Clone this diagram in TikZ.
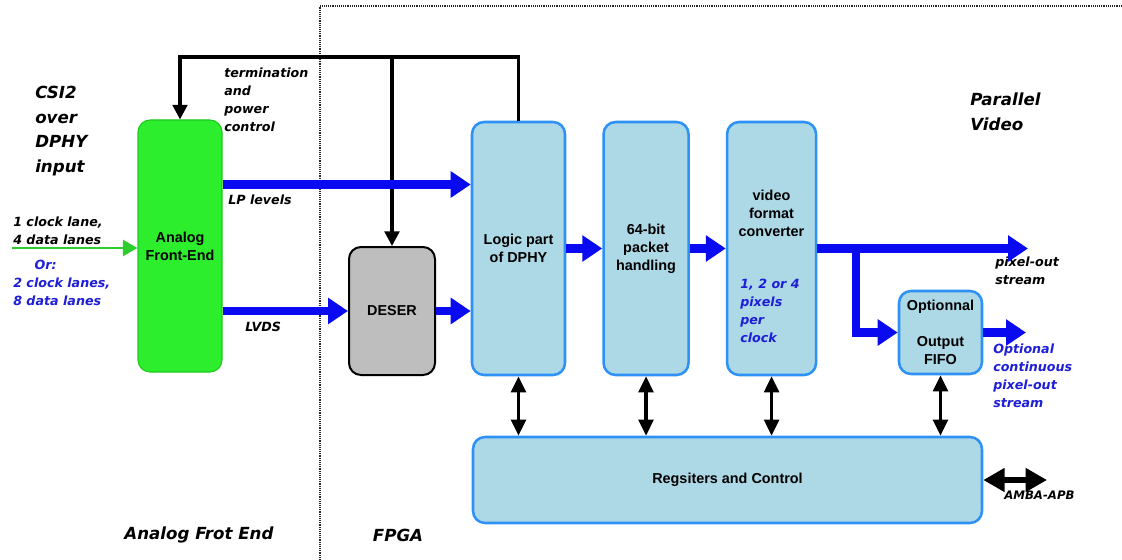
\documentclass[tikz,border=0pt]{standalone}
\usepackage{fontspec}
\setmainfont{Liberation Sans}
\newfontfamily\lblfont{DejaVu Sans}
\usepackage{tikz}
\usetikzlibrary{arrows.meta,positioning}
\definecolor{afegreen}{RGB}{45,238,45}
\definecolor{afeedge}{RGB}{30,200,30}
\definecolor{blkblue}{RGB}{173,216,230}
\definecolor{blkedge}{RGB}{45,145,245}
\definecolor{desergray}{RGB}{190,190,190}
\definecolor{busblue}{RGB}{10,10,240}
\definecolor{noteblue}{RGB}{30,30,215}
\definecolor{lanegreen}{RGB}{45,205,45}

\begin{document}
\begin{tikzpicture}[
  x=0.75pt, y=-0.75pt,
  node distance=27pt,
  boxtext/.style={align=center, font=\fontsize{10.8}{13.5}\selectfont\bfseries},
  box/.style={boxtext, rounded corners=9pt, inner sep=2pt},
  afebox/.style={box, draw=afeedge, fill=afegreen, line width=0.8pt, minimum width=63pt, minimum height=189pt},
  fpga/.style={box, draw=blkedge, fill=blkblue, line width=1.9pt},
  stage/.style={fpga, minimum height=189.75pt},
  lbl/.style={align=left, inner sep=0pt, font=\lblfont\fontsize{9.5}{13.5}\selectfont\bfseries\itshape},
  note/.style={lbl, text=noteblue},
  heading/.style={lbl, font=\lblfont\fontsize{12.5}{18.5}\selectfont\bfseries\itshape},
  bus/.style={draw=busblue, line width=6.5pt, -{Triangle[length=15pt,width=19pt]}},
  lane/.style={draw=lanegreen, line width=2.2pt, -{Triangle[length=11pt,width=12pt]}},
  ctl/.style={line width=2.4pt, -{Triangle[length=11pt,width=11pt]}},
  reg/.style={line width=2.4pt, {Triangle[length=12pt,width=11pt]}-{Triangle[length=12pt,width=11pt]}},
  amba/.style={line width=4.5pt, {Triangle[length=16pt,width=17pt]}-{Triangle[length=16pt,width=17pt]}},
  divider/.style={line width=0.8pt, black!85, dash pattern=on 0.7pt off 0.7pt}
]
\useasboundingbox (0,0) rectangle (1122,560);
\draw[divider] (320,560) -- (320,6) -- (1122,6);

\node[afebox] (afe) at (180,246) {Analog\\Front-End};
\node[box, draw, line width=1.5pt, fill=desergray, minimum width=64.5pt, minimum height=96pt] (deser) at (392,311) {DESER};
\node[stage, minimum width=69.75pt] (logic) at (518.5,248.5) {Logic part\\of DPHY};
\node[stage, minimum width=63.75pt, right=of logic] (pkt) {64-bit\\packet\\handling};
\node[stage, minimum width=66.75pt, right=of pkt] (vfc) {};
\node[boxtext] (vfctxt) at (771.5,213) {video\\format\\converter};
\node[note, anchor=west] (pxrate) at (740,311) {1, 2 or 4\\pixels\\per\\clock};
\node[fpga, minimum width=62.25pt, minimum height=62.25pt] (fifo) at (940.5,332.5) {Optionnal\\[13.5pt]Output\\FIFO};
\node[fpga, minimum width=381.75pt, minimum height=64.5pt] (regs) at (727.5,480) {Regsiters and Control};

\node[heading, anchor=west] (csi) at (35,131) {CSI2\\over\\DPHY\\input};
\node[lbl, anchor=west] (term) at (224,100) {termination\\and\\power\\control};
\node[lbl, anchor=west] (lanes) at (13,231) {1 clock lane,\\4 data lanes};
\node[note, anchor=west] (lanesalt) at (13,283) {\hspace*{16pt}Or:\\2 clock lanes,\\8 data lanes};
\node[lbl, anchor=west] (lplbl) at (228,200) {LP levels};
\node[lbl, anchor=west] (lvdslbl) at (245,327) {LVDS};
\node[lbl, anchor=west] (pxlbl) at (995,271) {pixel-out\\stream};
\node[note, anchor=west] (contlbl) at (993,376) {Optional\\continuous\\pixel-out\\stream};
\node[heading, anchor=west] (parlbl) at (970,111.5) {Parallel\\Video};
\node[heading] (afelbl) at (199,535) {Analog Frot End};
\node[heading] (fpgalbl) at (398,535) {FPGA};
\node[lbl, anchor=west, font=\lblfont\fontsize{8.8}{10}\selectfont\bfseries\itshape] (apblbl) at (1004,495) {AMBA-APB};

\coordinate (lanein) at (12,248);
\coordinate (fbtop) at (518.5,57);
\coordinate (pxout) at (1028,248.5);
\coordinate (fifoout) at (1026,332.5);
\coordinate (apb) at (1047,480);

\draw[lane] (lanein) -- (lanein -| afe.west);
\draw[ctl] (logic.north) -- (fbtop) -| (afe.north);
\draw[ctl] (deser.north |- fbtop) -- (deser.north);
\draw[bus] ([yshift=48pt]logic.west -| afe.east) -- ([yshift=48pt]logic.west);
\draw[bus] (deser.west -| afe.east) -- (deser.west);
\draw[bus] (deser.east) -- (deser.east -| logic.west);
\draw[bus] (logic.east) -- (pkt.west);
\draw[bus] (pkt.east) -- (vfc.west);
\draw[bus] (vfc.east) -- (pxout);
\draw[bus] ([xshift=29pt]vfc.east) |- (fifo.west);
\draw[bus] (fifo.east) -- (fifoout);
\foreach \blk in {logic,pkt,vfc,fifo}
  \draw[reg] (\blk.south) -- (\blk.south |- regs.north);
\draw[amba] (regs.east) -- (apb);
\end{tikzpicture}
\end{document}
